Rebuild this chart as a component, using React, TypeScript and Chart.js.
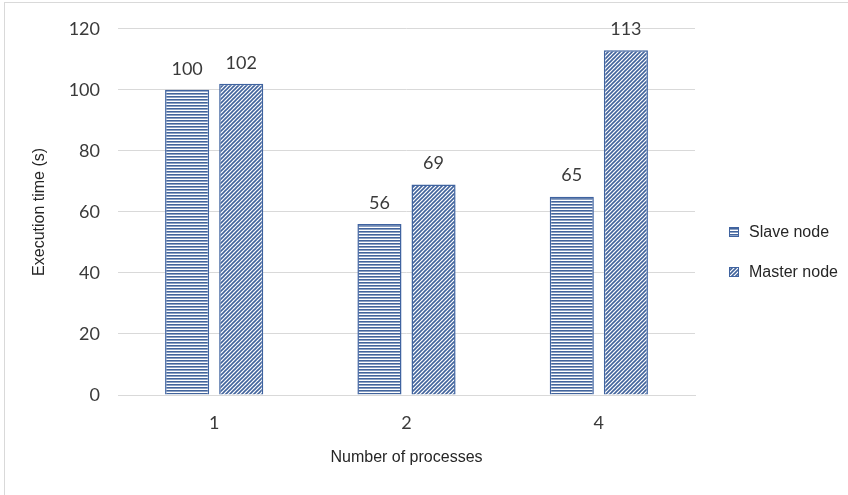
import React, { useEffect, useRef } from 'react';
import { Chart, registerables } from 'chart.js';

Chart.register(...registerables);

const categories = ['1', '2', '4'];
const slaveValues = [100, 56, 65];
const masterValues = [102, 69, 113];
const seriesNames = ['Slave node', 'Master node'];
const yMin = 0;
const yMax = 120;
const yStep = 20;
const xTitle = 'Number of processes';
const yTitle = 'Execution time (s)';

const STRIPE = '#42649c';
const BORDER = '#3f63a0';
const GRID = '#d9d9d9';
const TEXT = '#3a3a3a';
const NUM_FONT = 'Lato, "Open Sans", sans-serif';
const SANS = '"Liberation Sans", Arial, sans-serif';

function makeHPattern(ctx: CanvasRenderingContext2D) {
  const c = document.createElement('canvas');
  c.width = 8;
  c.height = 3;
  const g = c.getContext('2d')!;
  g.fillStyle = '#ffffff';
  g.fillRect(0, 0, 8, 3);
  g.fillStyle = STRIPE;
  g.fillRect(0, 0, 8, 1.6);
  return ctx.createPattern(c, 'repeat')!;
}

function makeDPattern(ctx: CanvasRenderingContext2D) {
  const s = 4;
  const c = document.createElement('canvas');
  c.width = s;
  c.height = s;
  const g = c.getContext('2d')!;
  g.fillStyle = '#ffffff';
  g.fillRect(0, 0, s, s);
  g.strokeStyle = STRIPE;
  g.lineWidth = 1.6;
  g.beginPath();
  g.moveTo(-1, 1);
  g.lineTo(1, -1);
  g.moveTo(0, s);
  g.lineTo(s, 0);
  g.moveTo(s - 1, s + 1);
  g.lineTo(s + 1, s - 1);
  g.stroke();
  return ctx.createPattern(c, 'repeat')!;
}

export default function App() {
  const ref = useRef<HTMLCanvasElement | null>(null);

  useEffect(() => {
    const canvas = ref.current;
    if (!canvas) return;
    const ctx = canvas.getContext('2d')!;
    const hPat = makeHPattern(ctx);
    const dPat = makeDPattern(ctx);
    const patterns = [hPat, dPat];

    const framePlugin = {
      id: 'frame',
      beforeDraw(chart: any) {
        const c = chart.ctx;
        c.save();
        c.fillStyle = '#ffffff';
        c.fillRect(0, 0, chart.width, chart.height);
        c.strokeStyle = GRID;
        c.lineWidth = 1;
        c.strokeRect(4.5, 2.5, chart.width + 10, chart.height + 10);
        c.restore();
      },
    };

    const labelPlugin = {
      id: 'valueLabels',
      afterDatasetsDraw(chart: any) {
        const c = chart.ctx;
        c.save();
        c.font = `18px ${NUM_FONT}`;
        c.fillStyle = TEXT;
        c.textAlign = 'center';
        c.textBaseline = 'middle';
        chart.data.datasets.forEach((ds: any, i: number) => {
          const meta = chart.getDatasetMeta(i);
          meta.data.forEach((el: any, j: number) => {
            c.fillText(String(ds.data[j]), el.x, el.y - 21);
          });
        });
        c.restore();
      },
    };

    const legendPlugin = {
      id: 'customLegend',
      afterDraw(chart: any) {
        const c = chart.ctx;
        c.save();
        const ys = [232, 272];
        chart.data.datasets.forEach((ds: any, i: number) => {
          const y = ys[i];
          c.fillStyle = patterns[i];
          c.fillRect(729, y - 5, 10, 10);
          c.strokeStyle = BORDER;
          c.lineWidth = 1;
          c.strokeRect(729.5, y - 4.5, 9, 9);
          c.fillStyle = '#262626';
          c.font = `16px ${SANS}`;
          c.textAlign = 'left';
          c.textBaseline = 'middle';
          c.fillText(ds.label, 749, y + 1);
        });
        c.restore();
      },
    };

    const chart = new Chart(canvas, {
      type: 'bar',
      data: {
        labels: categories,
        datasets: [
          {
            label: seriesNames[0],
            data: slaveValues,
            backgroundColor: hPat,
            borderColor: BORDER,
            borderWidth: 1.5,
            categoryPercentage: 0.5625,
            barPercentage: 0.815,
          },
          {
            label: seriesNames[1],
            data: masterValues,
            backgroundColor: dPat,
            borderColor: BORDER,
            borderWidth: 1.5,
            categoryPercentage: 0.5625,
            barPercentage: 0.815,
          },
        ],
      },
      options: {
        animation: false,
        responsive: false,
        devicePixelRatio: 1,
        layout: { padding: { top: 28, right: 153, bottom: 0, left: 0 } },
        plugins: {
          legend: { display: false },
          tooltip: { enabled: false },
        },
        scales: {
          x: {
            grid: { display: false, drawTicks: false },
            border: { display: true, color: GRID, width: 1 },
            ticks: { color: TEXT, font: { family: NUM_FONT, size: 18 }, padding: 17 },
            title: {
              display: true,
              text: xTitle,
              color: '#262626',
              font: { family: SANS, size: 16 },
              padding: { top: 0, bottom: 28 },
            },
            afterFit(scale: any) {
              scale.height = 100;
            },
          },
          y: {
            min: yMin,
            max: yMax,
            ticks: { stepSize: yStep, color: TEXT, font: { family: NUM_FONT, size: 18 }, padding: 18 },
            grid: { color: GRID, lineWidth: 1, drawTicks: false },
            border: { display: false },
            title: {
              display: true,
              text: yTitle,
              color: '#262626',
              font: { family: SANS, size: 16 },
              padding: { top: 30, bottom: 0 },
            },
            afterFit(scale: any) {
              scale.width = 118;
            },
          },
        },
      },
      plugins: [framePlugin, labelPlugin, legendPlugin],
    } as any);

    return () => chart.destroy();
  }, []);

  return (
    <div style={{ position: 'absolute', left: 0, top: 0, width: 848, height: 495 }}>
      <canvas ref={ref} width={848} height={495} style={{ width: 848, height: 495, display: 'block' }} />
    </div>
  );
}
